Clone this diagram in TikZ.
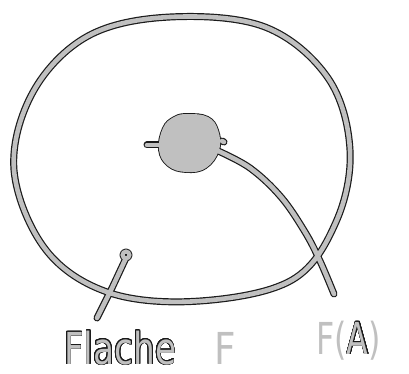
\documentclass[tikz,border=0pt]{standalone}
\usepackage{fontspec}
\setmainfont{DejaVu Sans}
\usepackage{contour}
\contourlength{0.9pt}
\contournumber{24}
\definecolor{sk}{HTML}{C0C0C0}
\definecolor{ink}{HTML}{1A1A1A}
\tikzset{
  outerpass/.style={draw=ink, line width=7pt, line cap=round, line join=round},
  innerpass/.style={draw=sk, line width=4.6pt, line cap=round, line join=round},
  lbl/.style={inner sep=0pt, anchor=base west, font=\fontsize{44}{44}\selectfont},
}
\begin{document}
\begin{tikzpicture}[x=1pt,y=-1pt]
\useasboundingbox (0,0) rectangle (409,374);
\fill[white] (0,0) rectangle (409,374);
% --- outer (dark border) pass
\draw[outerpass] plot[smooth cycle, tension=0.6] coordinates {(170,17) (265,27) (328,78) (350,150) (336,222) (292,280) (200,301) (110,293) (46,250) (14,170) (33,92) (88,36)};
\draw[outerpass] plot[smooth, tension=0.6] coordinates {(216,150) (250,168) (281,197) (305,232) (320,261) (334,294)};
\draw[outerpass] (126,258) -- (112,288) -- (97,318);
\draw[outerpass] (147,145) -- (165,145);
\draw[outerpass] (222,141) -- (224,142);
\draw[ink, line width=6pt, line join=round] (126,255) circle[radius=3.5];
\draw[ink, line width=1.8pt, fill=ink] plot[smooth cycle, tension=0.7] coordinates {(188,114) (208,117) (218,130) (219,150) (206,168) (186,172) (168,166) (159,150) (163,128) (174,117)};
% --- inner (grey) pass
\draw[innerpass] plot[smooth cycle, tension=0.6] coordinates {(170,17) (265,27) (328,78) (350,150) (336,222) (292,280) (200,301) (110,293) (46,250) (14,170) (33,92) (88,36)};
\draw[innerpass] plot[smooth, tension=0.6] coordinates {(216,150) (250,168) (281,197) (305,232) (320,261) (334,294)};
\draw[innerpass] (126,258) -- (112,288) -- (97,318);
\draw[innerpass] (147,145) -- (165,145);
\draw[innerpass] (222,141) -- (224,142);
\draw[sk, line width=4pt] (126,255) circle[radius=3.5];
\fill[sk] plot[smooth cycle, tension=0.7] coordinates {(188,114) (208,117) (218,130) (219,150) (206,168) (186,172) (168,166) (159,150) (163,128) (174,117)};
% --- labels
\node[lbl] (flache) at (64,364) {\scalebox{0.78}[1]{\textcolor{sk}{\contour{ink}{Flache}}}};
\node[lbl, text=sk] (f) at (214,364) {\scalebox{0.85}[1]{F}};
\node[lbl, text=sk] (fa) at (316,354) {\scalebox{0.72}[1]{F(\contour{ink}{A})}};
\end{tikzpicture}
\end{document}
